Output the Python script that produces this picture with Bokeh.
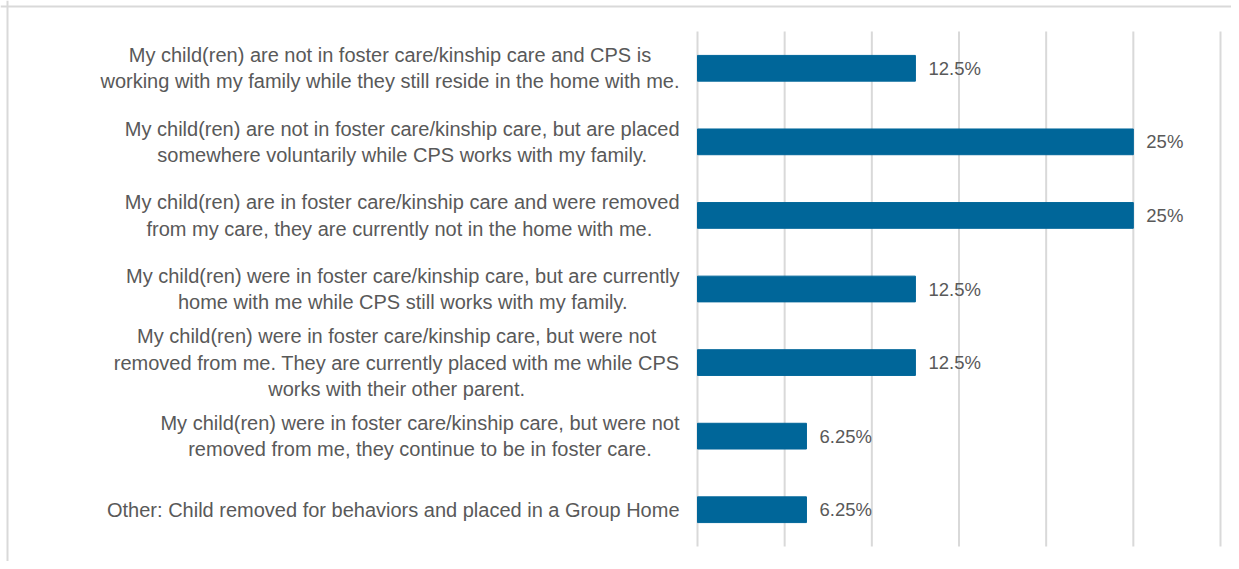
from bokeh.plotting import figure, ColumnDataSource
from bokeh.models import Range1d, Span
from bokeh.embed import file_html
from bokeh.resources import INLINE
from bokeh.core.properties import value

# ---------------- data (top to bottom) ----------------
categories = [
    "My child(ren) are not in foster care/kinship care and CPS is\nworking with my family while they still reside in the home with me.",
    "My child(ren) are not in foster care/kinship care, but are placed\nsomewhere voluntarily while CPS works with my family.",
    "My child(ren) are in foster care/kinship care and were removed\nfrom my care,  they are currently not in the home with me.",
    "My child(ren) were in foster care/kinship care, but are currently\nhome with me while CPS still works with my family.",
    "My child(ren) were in foster care/kinship care, but were not\nremoved from me. They are currently placed with me while CPS\nworks with their other parent.",
    "My child(ren) were in foster care/kinship care, but were not\nremoved from me, they continue to be in foster care.",
    "Other: Child removed for behaviors and placed in a Group Home",
]
shares = [0.125, 0.25, 0.25, 0.125, 0.125, 0.0625, 0.0625]
share_labels = ["12.5%", "25%", "25%", "12.5%", "12.5%", "6.25%", "6.25%"]
x_ticks = [0.0, 0.05, 0.10, 0.15, 0.20, 0.25, 0.30]

# ---------------- layout (pixels) ----------------
W, H = 1231, 561
ZERO_SX, MAX_SX = 697, 1220        # screen x of 0 and of axis max
BAND_TOP, BAND_BOT = 31, 546       # screen y of the category area
FRAME_TOP_SY, FRAME_LEFT_SX = 6, 7
FONT = "Liberation Sans"
LABEL_PX = 20
VALUE_PX = 18.5
LABEL_GAP = 18
TEXT_COLOR = "#595959"
GRID_COLOR = "#d9d9d9"
BAR_COLOR = "#006699"

n = len(categories)
xmax = x_ticks[-1]
xscale = (MAX_SX - ZERO_SX) / xmax
x_start = -ZERO_SX / xscale
x_end = xmax + (W - MAX_SX) / xscale
band = (BAND_BOT - BAND_TOP) / n
y_start = -0.5 - (H - BAND_BOT) / band
y_end = n - 0.5 + BAND_TOP / band

ys = [n - 1 - i for i in range(n)]

# Arial / Liberation Sans advance widths (per 1000 em)
AW = {' ': 278, '(': 333, ')': 333, ',': 278, '.': 278, '/': 278, ':': 278, '%': 889,
      'A': 667, 'B': 667, 'C': 722, 'D': 722, 'E': 667, 'F': 611, 'G': 778, 'H': 722,
      'I': 278, 'J': 500, 'K': 667, 'L': 556, 'M': 833, 'N': 722, 'O': 778, 'P': 667,
      'Q': 778, 'R': 722, 'S': 667, 'T': 611, 'U': 722, 'V': 667, 'W': 944, 'X': 667,
      'Y': 667, 'Z': 611, 'a': 556, 'b': 556, 'c': 500, 'd': 556, 'e': 556, 'f': 278,
      'g': 556, 'h': 556, 'i': 222, 'j': 222, 'k': 500, 'l': 222, 'm': 833, 'n': 556,
      'o': 556, 'p': 556, 'q': 556, 'r': 333, 's': 500, 't': 278, 'u': 556, 'v': 500,
      'w': 722, 'x': 500, 'y': 500, 'z': 500}


def text_width(s, px):
    return sum(AW.get(ch, 556) for ch in s) * px / 1000.0


label_offsets = []
for c in categories:
    w = max(text_width(line, LABEL_PX) for line in c.split("\n"))
    label_offsets.append(-(LABEL_GAP + w / 2.0))

p = figure(width=W, height=H, x_range=Range1d(x_start, x_end), y_range=Range1d(y_start, y_end),
           output_backend="svg", toolbar_location=None, x_axis_location=None,
           y_axis_location=None, min_border=0)
p.grid.visible = False
p.outline_line_color = None
p.background_fill_color = "white"
p.border_fill_color = "white"

# outer frame (top / left)
p.add_layout(Span(location=y_end - FRAME_TOP_SY / band, dimension="width",
                  line_color=GRID_COLOR, line_width=2))
p.add_layout(Span(location=x_start + FRAME_LEFT_SX / xscale, dimension="height",
                  line_color=GRID_COLOR, line_width=2))

# vertical gridlines
p.segment(x0=x_ticks, y0=[-0.5] * len(x_ticks), x1=x_ticks, y1=[n - 0.5] * len(x_ticks),
          line_color=GRID_COLOR, line_width=2)

src = ColumnDataSource(dict(y=ys, share=shares, lab=share_labels, cat=categories,
                            off=label_offsets))

p.hbar(y="y", left=0, right="share", height=0.35, fill_color=BAR_COLOR,
       line_color=BAR_COLOR, source=src)

p.text(x="share", y="y", text="lab", x_offset=13, text_align="left", text_baseline="middle",
       text_font=value(FONT), text_font_size=f"{VALUE_PX}px", text_color=TEXT_COLOR, source=src)

p.text(x=0, y="y", text="cat", x_offset="off", text_align="center", text_baseline="middle",
       text_line_height=1.2, text_font=value(FONT), text_font_size=f"{LABEL_PX}px",
       text_color=TEXT_COLOR, source=src)

open("out.html", "w").write(file_html(p, INLINE))
